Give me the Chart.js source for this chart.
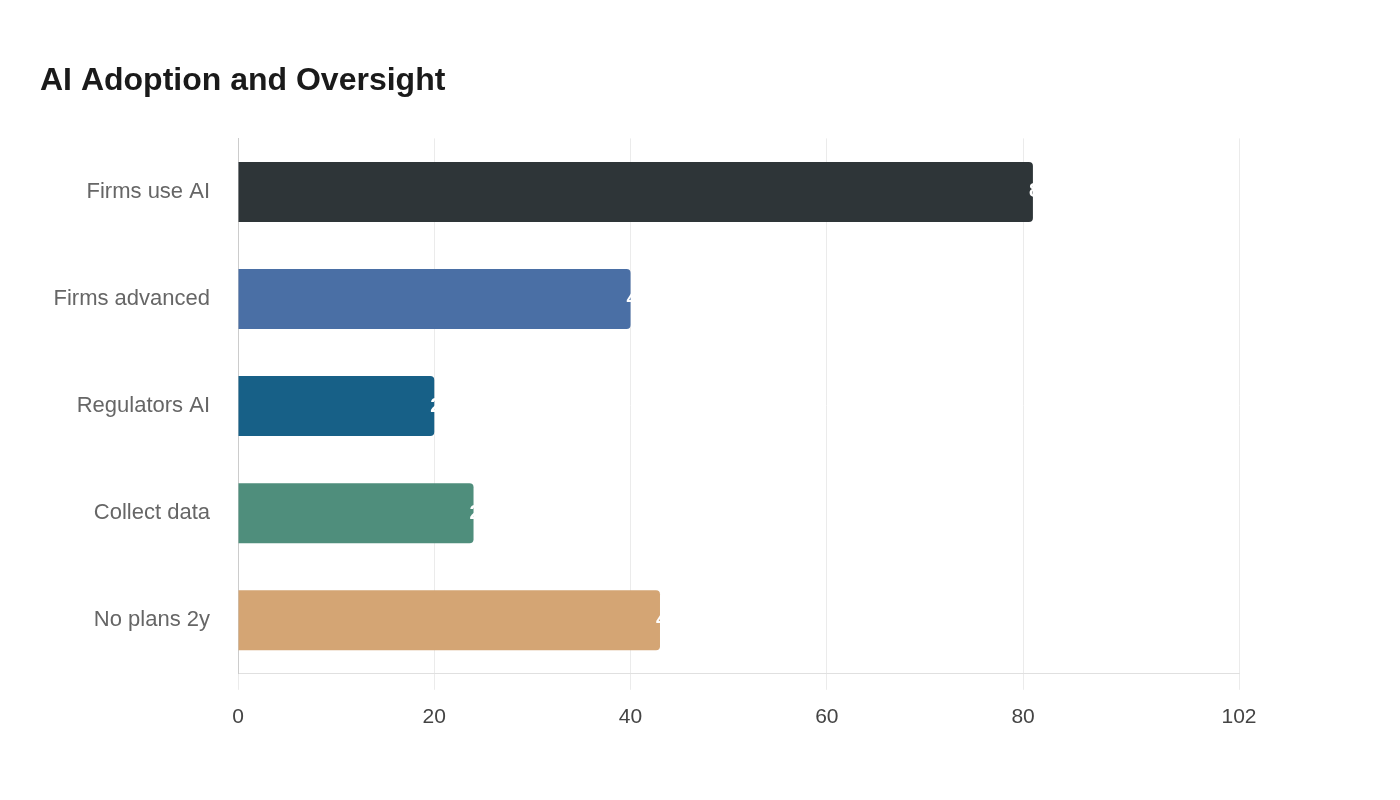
<!DOCTYPE html>
<html>
<head>
<meta charset="utf-8">
<script src="https://cdn.jsdelivr.net/npm/chart.js@4/dist/chart.umd.min.js"></script>
<style>
  html, body { margin: 0; padding: 0; background: #fff; }
</style>
</head>
<body>
<canvas id="chart" width="1400" height="800"></canvas>
<script>
const labels = ["Firms use AI", "Firms advanced", "Regulators AI", "Collect data", "No plans 2y"];
const values = [81, 40, 20, 24, 43];
const colors = ["#2e3538", "#4a6fa5", "#176087", "#4f8e7c", "#d4a574"];

// white value text placed at the bar end, mostly running off into the white area
const endLabels = {
  id: "endLabels",
  afterDatasetsDraw(chart) {
    const ctx = chart.ctx;
    const meta = chart.getDatasetMeta(0);
    ctx.save();
    ctx.fillStyle = "#fff";
    ctx.font = "bold 20px 'Liberation Sans', Arial, sans-serif";
    ctx.textAlign = "left";
    ctx.textBaseline = "middle";
    meta.data.forEach((bar, i) => {
      ctx.fillText(String(values[i]), bar.x - 4, bar.y);
    });
    ctx.restore();
  }
};

const ctx = document.getElementById("chart").getContext("2d");
new Chart(ctx, {
  type: "bar",
  data: {
    labels: labels,
    datasets: [{
      data: values,
      backgroundColor: colors,
      borderRadius: 4,
      borderSkipped: "start",
      barPercentage: 0.56,
      categoryPercentage: 1.0
    }]
  },
  options: {
    indexAxis: "y",
    responsive: false,
    animation: false,
    devicePixelRatio: 1,
    layout: { padding: { left: 40, right: 161, top: 40, bottom: 55 } },
    plugins: {
      legend: { display: false },
      tooltip: { enabled: false },
      title: {
        display: true,
        text: "AI Adoption and Oversight",
        align: "start",
        color: "#1a1a1a",
        font: { family: "'Liberation Sans', Arial, sans-serif", size: 32, weight: "bold" },
        padding: { top: 22, bottom: 38 }
      }
    },
    scales: {
      x: {
        min: 0,
        max: 102,
        ticks: {
          stepSize: 20,
          color: "#444",
          padding: 15,
          font: { family: "'Liberation Sans', Arial, sans-serif", size: 21 }
        },
        grid: { color: "#ebebeb", tickLength: 16 },
        border: { color: "#e0e0e0" }
      },
      y: {
        afterFit: (scale) => { scale.width = 198; },
        ticks: {
          color: "#666",
          padding: 20,
          font: { family: "'Liberation Sans', Arial, sans-serif", size: 22 }
        },
        grid: { display: false },
        border: { color: "#cccccc" }
      }
    }
  },
  plugins: [endLabels]
});
</script>
</body>
</html>
